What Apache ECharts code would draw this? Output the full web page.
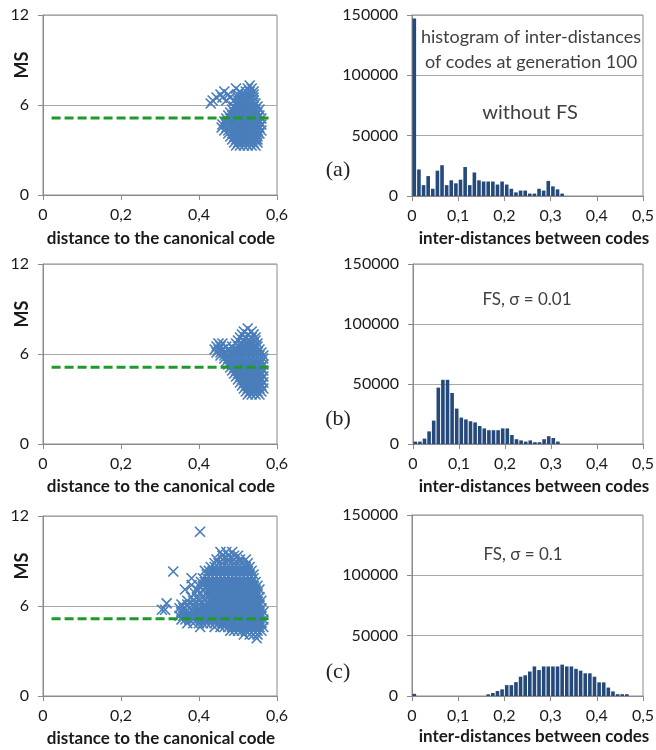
<!DOCTYPE html>
<html><head><meta charset="utf-8">
<script src="https://cdn.jsdelivr.net/npm/echarts@6/dist/echarts.min.js"></script>
<style>html,body{margin:0;padding:0;background:#fff}#c{width:656px;height:750px}</style>
</head><body><div id="c"></div>
<script>
// ---- tick values ----
const scatterXTicks = [0, 0.2, 0.4, 0.6];
const scatterYTicks = [0, 6, 12];
const histXTicks = [0, 0.1, 0.2, 0.3, 0.4, 0.5];
const histYTicks = [0, 50000, 100000, 150000];

// ---- histogram bins (left edges, width 0.01) ----
const binWidth = 0.01;
const binStarts = [0,0.01,0.02,0.03,0.04,0.05,0.06,0.07,0.08,0.09,0.10,0.11,0.12,0.13,0.14,0.15,0.16,0.17,0.18,0.19,
  0.20,0.21,0.22,0.23,0.24,0.25,0.26,0.27,0.28,0.29,0.30,0.31,0.32,0.33,0.34,0.35,0.36,0.37,0.38,0.39,
  0.40,0.41,0.42,0.43,0.44,0.45,0.46,0.47,0.48,0.49];
const histA = [147000,22000,9000,16500,6000,21000,25500,9000,13000,10500,13500,24000,9000,19500,13000,12000,12000,12000,9500,12000,
  9500,6000,3000,4500,4500,2000,2000,6000,4500,12500,8000,5500,2000,0,0,0,0,0,0,0,
  0,0,0,0,0,0,0,0,0,0];
const histB = [2000,2000,4500,10500,19500,47000,53500,53500,42500,29500,22000,20500,19000,18000,15000,13000,11500,11500,11500,13000,
  13000,7500,4000,3000,2000,3000,1500,1500,4000,6500,5000,2000,0,0,0,0,0,0,0,0,
  0,0,0,0,0,0,0,0,0,0];
const histC = [1800,0,0,0,0,0,0,0,0,0,0,0,0,0,0,0,1400,2500,4100,5500,
  9000,9000,11500,16000,17200,20300,24500,21500,24500,24500,24500,24500,26000,24500,24500,22500,21000,18800,18800,16000,
  11300,11300,7000,3800,1500,1500,1500,0,0,0];

// ---- threshold line (dashed green) ----
const thresholdA = [[0.022, 5.13], [0.587, 5.13]];
const thresholdB = [[0.022, 5.11], [0.587, 5.11]];
const thresholdC = [[0.022, 5.15], [0.587, 5.15]];

// ---- scatter clouds: rows of [MS value, [distances...]] ----
const scatterRowsA = [
  [7.3, [0.530]],
  [7.1, [0.495, 0.525, 0.535]],
  [6.9, [0.465, 0.505, 0.52, 0.53, 0.54]],
  [6.7, [0.455, 0.475, 0.50, 0.51, 0.52, 0.53, 0.54]],
  [6.5, [0.445, 0.46, 0.48, 0.50, 0.51, 0.52, 0.53, 0.54]],
  [6.3, [0.435, 0.47, 0.49, 0.50, 0.51, 0.52, 0.53, 0.54]],
  [6.1, [0.43, 0.495, 0.505, 0.515, 0.525, 0.535, 0.545]],
  [5.9, [0.49, 0.50, 0.51, 0.52, 0.53, 0.54, 0.55]],
  [5.7, [0.485, 0.495, 0.505, 0.515, 0.525, 0.535, 0.545, 0.555]],
  [5.5, [0.48, 0.49, 0.50, 0.51, 0.52, 0.53, 0.54, 0.55]],
  [5.3, [0.475, 0.485, 0.495, 0.505, 0.515, 0.525, 0.535, 0.545, 0.555]],
  [5.1, [0.47, 0.48, 0.49, 0.50, 0.51, 0.52, 0.53, 0.54, 0.55, 0.56]],
  [4.9, [0.465, 0.475, 0.485, 0.495, 0.505, 0.515, 0.525, 0.535, 0.545, 0.555]],
  [4.7, [0.46, 0.47, 0.48, 0.49, 0.50, 0.51, 0.52, 0.53, 0.54, 0.55, 0.56]],
  [4.5, [0.458, 0.47, 0.48, 0.495, 0.505, 0.515, 0.525, 0.535, 0.545, 0.555]],
  [4.3, [0.465, 0.475, 0.49, 0.50, 0.51, 0.52, 0.53, 0.54, 0.55, 0.56]],
  [4.1, [0.475, 0.485, 0.495, 0.505, 0.515, 0.525, 0.535, 0.545, 0.555]],
  [3.9, [0.48, 0.49, 0.50, 0.51, 0.52, 0.53, 0.54, 0.55]],
  [3.7, [0.485, 0.495, 0.505, 0.515, 0.525, 0.535, 0.545, 0.55]],
  [3.5, [0.49, 0.50, 0.51, 0.52, 0.53, 0.54, 0.55]],
  [3.3, [0.495, 0.505, 0.515, 0.525, 0.535, 0.545]]
];
const scatterRowsB = [
  [7.7, [0.525]],
  [7.5, [0.515, 0.535]],
  [7.3, [0.51, 0.525, 0.54]],
  [7.1, [0.505, 0.52, 0.535, 0.545]],
  [6.9, [0.50, 0.515, 0.53, 0.545]],
  [6.7, [0.45, 0.46, 0.495, 0.51, 0.52, 0.53, 0.54, 0.55]],
  [6.5, [0.445, 0.455, 0.47, 0.485, 0.50, 0.51, 0.52, 0.53, 0.54, 0.55]],
  [6.3, [0.44, 0.45, 0.46, 0.475, 0.49, 0.50, 0.51, 0.52, 0.53, 0.54, 0.555]],
  [6.1, [0.445, 0.455, 0.465, 0.48, 0.49, 0.50, 0.51, 0.52, 0.53, 0.54, 0.55, 0.56]],
  [5.9, [0.455, 0.465, 0.475, 0.485, 0.495, 0.505, 0.515, 0.525, 0.535, 0.545, 0.555, 0.565]],
  [5.7, [0.465, 0.475, 0.485, 0.495, 0.505, 0.515, 0.525, 0.535, 0.545, 0.555, 0.565]],
  [5.5, [0.47, 0.48, 0.49, 0.50, 0.51, 0.52, 0.53, 0.54, 0.55, 0.56]],
  [5.3, [0.475, 0.485, 0.495, 0.505, 0.515, 0.525, 0.535, 0.545, 0.555, 0.565]],
  [5.1, [0.48, 0.49, 0.50, 0.51, 0.52, 0.53, 0.54, 0.55, 0.56]],
  [4.9, [0.485, 0.495, 0.505, 0.515, 0.525, 0.535, 0.545, 0.555, 0.565]],
  [4.7, [0.49, 0.50, 0.51, 0.52, 0.53, 0.54, 0.55, 0.56]],
  [4.5, [0.495, 0.505, 0.515, 0.525, 0.535, 0.545, 0.555, 0.565]],
  [4.3, [0.50, 0.51, 0.52, 0.53, 0.54, 0.55, 0.56]],
  [4.1, [0.505, 0.515, 0.525, 0.535, 0.545, 0.555, 0.565]],
  [3.9, [0.51, 0.52, 0.53, 0.54, 0.55, 0.56]],
  [3.7, [0.515, 0.525, 0.535, 0.545, 0.555, 0.565]],
  [3.5, [0.52, 0.53, 0.54, 0.55, 0.56]],
  [3.3, [0.525, 0.535, 0.545, 0.555]]
];
const scatterRowsC = [
  [10.95, [0.4026]],
  [9.6, [0.455, 0.47, 0.485]],
  [9.35, [0.46, 0.475, 0.49, 0.50]],
  [9.1, [0.445, 0.46, 0.475, 0.49, 0.505, 0.52]],
  [8.85, [0.44, 0.45, 0.46, 0.47, 0.48, 0.49, 0.50, 0.51, 0.525]],
  [8.6, [0.43, 0.44, 0.45, 0.46, 0.47, 0.48, 0.49, 0.50, 0.51, 0.52, 0.53]],
  [8.3, [0.334]],
  [8.35, [0.415, 0.425, 0.435, 0.445, 0.455, 0.465, 0.475, 0.485, 0.495, 0.505, 0.515, 0.525, 0.535]],
  [8.1, [0.42, 0.43, 0.44, 0.45, 0.46, 0.47, 0.48, 0.49, 0.50, 0.51, 0.52, 0.53, 0.54]],
  [7.85, [0.381, 0.41, 0.42, 0.43, 0.44, 0.45, 0.46, 0.47, 0.48, 0.49, 0.50, 0.51, 0.52, 0.53, 0.54]],
  [7.6, [0.405, 0.415, 0.425, 0.435, 0.445, 0.455, 0.465, 0.475, 0.485, 0.495, 0.505, 0.515, 0.525, 0.535, 0.545]],
  [7.4, [0.381]],
  [7.35, [0.40, 0.41, 0.42, 0.43, 0.44, 0.45, 0.46, 0.47, 0.48, 0.49, 0.50, 0.51, 0.52, 0.53, 0.54, 0.55]],
  [7.1, [0.364, 0.395, 0.41, 0.425, 0.435, 0.445, 0.455, 0.465, 0.475, 0.485, 0.495, 0.505, 0.515, 0.525, 0.535, 0.545, 0.555]],
  [6.85, [0.39, 0.405, 0.42, 0.43, 0.44, 0.45, 0.46, 0.47, 0.48, 0.49, 0.50, 0.51, 0.52, 0.53, 0.54, 0.55]],
  [6.6, [0.38, 0.395, 0.41, 0.425, 0.435, 0.445, 0.455, 0.465, 0.475, 0.485, 0.495, 0.505, 0.515, 0.525, 0.535, 0.545, 0.555]],
  [6.35, [0.37, 0.385, 0.40, 0.415, 0.43, 0.44, 0.45, 0.46, 0.47, 0.48, 0.49, 0.50, 0.51, 0.52, 0.53, 0.54, 0.55, 0.56]],
  [6.18, [0.317]],
  [6.1, [0.355, 0.37, 0.385, 0.40, 0.415, 0.425, 0.435, 0.445, 0.455, 0.465, 0.475, 0.485, 0.495, 0.505, 0.515, 0.525, 0.535, 0.545, 0.555]],
  [5.85, [0.35, 0.36, 0.375, 0.39, 0.40, 0.41, 0.42, 0.43, 0.44, 0.45, 0.46, 0.47, 0.48, 0.49, 0.50, 0.51, 0.52, 0.53, 0.54, 0.55, 0.56]],
  [5.75, [0.305, 0.313]],
  [5.6, [0.355, 0.365, 0.375, 0.385, 0.395, 0.405, 0.415, 0.425, 0.435, 0.445, 0.455, 0.465, 0.475, 0.485, 0.495, 0.505, 0.515, 0.525, 0.535, 0.545, 0.555, 0.565]],
  [5.35, [0.35, 0.36, 0.37, 0.38, 0.39, 0.40, 0.41, 0.42, 0.43, 0.44, 0.45, 0.46, 0.47, 0.48, 0.49, 0.50, 0.51, 0.52, 0.53, 0.54, 0.55, 0.56]],
  [5.1, [0.355, 0.365, 0.375, 0.385, 0.395, 0.405, 0.415, 0.425, 0.435, 0.445, 0.455, 0.465, 0.475, 0.485, 0.495, 0.505, 0.515, 0.525, 0.535, 0.545, 0.555, 0.565]],
  [4.85, [0.37, 0.385, 0.40, 0.41, 0.42, 0.43, 0.44, 0.45, 0.46, 0.47, 0.48, 0.49, 0.50, 0.51, 0.52, 0.53, 0.54, 0.55, 0.56]],
  [4.6, [0.403, 0.44, 0.455, 0.465, 0.475, 0.485, 0.495, 0.505, 0.515, 0.525, 0.535, 0.545, 0.555, 0.565]],
  [4.35, [0.48, 0.49, 0.50, 0.51, 0.52, 0.53, 0.54, 0.55, 0.56]],
  [4.1, [0.515, 0.53, 0.54, 0.55]],
  [3.85, [0.548]]
];

// ---- text ----
const scatterXTitle = 'distance to the canonical code';
const histXTitle = 'inter-distances between codes';
const yTitle = 'MS';
const panelTags = ['(a)', '(b)', '(c)'];
const histNotes = [['histogram of inter-distances', 'of codes at generation 100', 'without FS'], ['FS, σ = 0.01'], ['FS, σ = 0.1']];

// ---------------------------------------------------------------
function rowsToPoints(rows) {
  const pts = [];
  rows.forEach(r => r[1].forEach(x => pts.push([x, r[0]])));
  return pts;
}
function histPoints(counts) {
  return counts.map((c, i) => [binStarts[i] + binWidth / 2, c]);
}
const decFmt = v => String(Math.round(v * 10) / 10).replace('.', ',');
const intFmt = v => String(Math.round(v));

const FONT = 'Lato, "Open Sans", sans-serif';
const LABEL_COLOR = '#1a1a1a';
const BORDER = '#8a8a8a';
const GRIDLINE = '#a8a8a8';
const BLUE_PT = '#4a7ebb';
const BAR = '#25497b';
const GREEN = '#1f9a2a';

const grids = [
  {left: 43, top: 15, width: 234, height: 180},
  {left: 412, top: 15, width: 231, height: 181},
  {left: 43, top: 264, width: 234, height: 180},
  {left: 413, top: 264, width: 230, height: 180},
  {left: 43, top: 516, width: 234, height: 180},
  {left: 412, top: 515, width: 231, height: 181}
].map(g => Object.assign({show: true, borderColor: BORDER, borderWidth: 1, backgroundColor: '#fff', containLabel: false, outerBoundsMode: 'none'}, g));

const xAxes = [], yAxes = [], series = [];
const scatterSets = [scatterRowsA, scatterRowsB, scatterRowsC];
const thresholds = [thresholdA, thresholdB, thresholdC];
const hists = [histA, histB, histC];

function axisCommon() {
  return {
    axisLine: {show: true, lineStyle: {color: BORDER, width: 1}},
    axisTick: {show: true, inside: false, length: 5, lineStyle: {color: BORDER}},
    axisLabel: {color: LABEL_COLOR, fontFamily: FONT, fontSize: 16},
    splitLine: {show: true, lineStyle: {color: GRIDLINE, width: 1}}
  };
}

for (let p = 0; p < 3; p++) {
  const gs = p * 2, gh = p * 2 + 1;
  xAxes.push(Object.assign(axisCommon(), {
    type: 'value', gridIndex: gs, min: scatterXTicks[0], max: scatterXTicks[scatterXTicks.length - 1], interval: 0.2,
    splitLine: {show: false}
  }));
  xAxes[xAxes.length - 1].axisLabel.formatter = decFmt;
  xAxes[xAxes.length - 1].axisLabel.margin = 12;
  yAxes.push(Object.assign(axisCommon(), {
    type: 'value', gridIndex: gs, min: scatterYTicks[0], max: scatterYTicks[scatterYTicks.length - 1], interval: 6
  }));
  yAxes[yAxes.length - 1].axisLabel.margin = 14;
  yAxes[yAxes.length - 1].axisLabel.formatter = intFmt;
  xAxes.push(Object.assign(axisCommon(), {
    type: 'value', gridIndex: gh, min: histXTicks[0], max: histXTicks[histXTicks.length - 1], interval: 0.1,
    splitLine: {show: false}
  }));
  xAxes[xAxes.length - 1].axisLabel.formatter = decFmt;
  xAxes[xAxes.length - 1].axisLabel.margin = 12;
  yAxes.push(Object.assign(axisCommon(), {
    type: 'value', gridIndex: gh, min: histYTicks[0], max: histYTicks[histYTicks.length - 1], interval: 50000
  }));
  yAxes[yAxes.length - 1].axisLabel.margin = 14;
  yAxes[yAxes.length - 1].axisLabel.formatter = intFmt;

  series.push({
    type: 'scatter', xAxisIndex: gs, yAxisIndex: gs,
    data: rowsToPoints(scatterSets[p]),
    symbol: 'path://M0,0L10,10M10,0L0,10', symbolSize: 10,
    itemStyle: {color: 'rgba(0,0,0,0)', borderColor: BLUE_PT, borderWidth: 1.7, opacity: 1},
    silent: true, z: 3
  });
  series.push({
    type: 'line', xAxisIndex: gs, yAxisIndex: gs, data: thresholds[p],
    symbol: 'none', lineStyle: {color: GREEN, width: 3, type: [9, 4]}, silent: true, z: 5
  });
  series.push({
    type: 'bar', xAxisIndex: gh, yAxisIndex: gh, data: histPoints(hists[p]),
    barWidth: 3.6, itemStyle: {color: BAR}, silent: true, z: 3
  });
}

const titleFont = 'bold 17px ' + FONT;
const graphics = [];
const scatterTitleY = [239, 487, 739];
const histTitleY = [239, 487, 737];
const msY = [65, 314, 566];
const tagY = [170, 419, 672];
for (let p = 0; p < 3; p++) {
  graphics.push({type: 'text', x: 161, y: scatterTitleY[p], style: {text: scatterXTitle, font: titleFont, fill: LABEL_COLOR, align: 'center', verticalAlign: 'middle'}});
  graphics.push({type: 'text', x: 534, y: histTitleY[p], style: {text: histXTitle, font: titleFont, fill: LABEL_COLOR, align: 'center', verticalAlign: 'middle'}});
  graphics.push({type: 'text', x: 22, y: msY[p], rotation: Math.PI / 2, style: {text: yTitle, font: 'bold 18px ' + FONT, fill: LABEL_COLOR, align: 'center', verticalAlign: 'middle'}});
  graphics.push({type: 'text', x: 338, y: tagY[p], style: {text: panelTags[p], font: '22px "Liberation Serif", "DejaVu Serif", serif', fill: '#222', align: 'center', verticalAlign: 'middle'}});
}
const noteColor = '#404040';
graphics.push({type: 'text', x: 531, y: 37, style: {text: histNotes[0][0], font: '18px ' + FONT, fill: noteColor, align: 'center', verticalAlign: 'middle'}});
graphics.push({type: 'text', x: 531, y: 62, style: {text: histNotes[0][1], font: '18px ' + FONT, fill: noteColor, align: 'center', verticalAlign: 'middle'}});
graphics.push({type: 'text', x: 530, y: 113, style: {text: histNotes[0][2], font: '20px ' + FONT, fill: noteColor, align: 'center', verticalAlign: 'middle'}});
graphics.push({type: 'text', x: 527, y: 300, style: {text: histNotes[1][0], font: '17px ' + FONT, fill: noteColor, align: 'center', verticalAlign: 'middle'}});
graphics.push({type: 'text', x: 523, y: 555, style: {text: histNotes[2][0], font: '17px ' + FONT, fill: noteColor, align: 'center', verticalAlign: 'middle'}});

const chart = echarts.init(document.getElementById('c'), null, {renderer: 'canvas'});
chart.setOption({
  animation: false,
  backgroundColor: '#fff',
  grid: grids,
  xAxis: xAxes,
  yAxis: yAxes,
  series: series,
  graphic: graphics
});
</script>
</body></html>
